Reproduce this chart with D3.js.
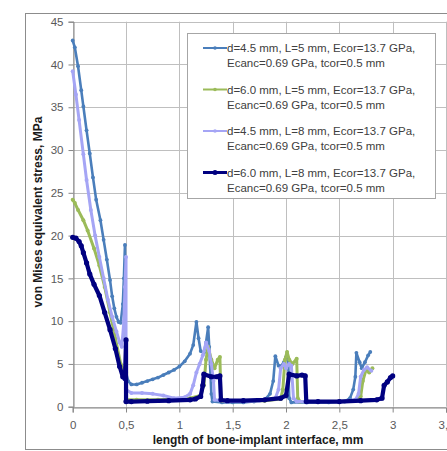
<!DOCTYPE html>
<html>
<head>
<meta charset="utf-8">
<script src="https://cdn.jsdelivr.net/npm/d3@7"></script>
<style>
  body { margin: 0; background: #fff; }
  text { font-family: "Liberation Sans", Arial, sans-serif; }
</style>
</head>
<body>
<div id="chart"></div>
<script>
// data
var xTicks = [0, 0.5, 1, 1.5, 2, 2.5, 3, 3.5];
var yTicks = [0, 5, 10, 15, 20, 25, 30, 35, 40, 45];

var s1x = [0,0.02,0.05,0.08,0.1,0.13,0.16,0.19,0.22,0.26,0.29,0.32,0.35,0.37,0.39,0.41,0.43,0.45,0.47,0.48,0.49,0.5,0.52,0.55,0.6,0.65,0.7,0.75,0.8,0.85,0.9,0.95,1.0,1.05,1.1,1.13,1.16,1.18,1.2,1.23,1.25,1.27,1.28,1.3,1.31,1.4,1.5,1.6,1.7,1.8,1.85,1.88,1.9,1.93,1.95,1.98,2.0,2.02,2.03,2.05,2.2,2.4,2.55,2.6,2.63,2.65,2.66,2.69,2.71,2.74,2.77,2.79];
var s1y = [42.8,42,39.8,37,35.1,32.3,29.6,26.8,24.2,21.8,19.5,17.2,14.8,12.9,11.5,10.5,9.9,9.8,12,15,18.9,4,3,2.6,2.6,2.8,3,3.2,3.4,3.7,4,4.3,4.7,5.3,6.2,7.2,9.9,8,6.5,6.3,7.5,9.3,7,1.5,0.6,0.5,0.5,0.5,0.6,0.8,1.5,3,5.9,4.8,4.7,5.2,5.8,5.5,1,0.5,0.5,0.5,0.6,1,2,3.5,6.3,5.2,4.5,5.2,6,6.4];

var s2x = [0,0.02,0.05,0.1,0.14,0.2,0.25,0.3,0.35,0.4,0.45,0.48,0.5,0.5,0.6,0.8,1.0,1.1,1.2,1.23,1.25,1.27,1.3,1.33,1.36,1.38,1.39,1.4,1.6,1.8,1.95,1.97,1.99,2.01,2.03,2.06,2.1,2.11,2.13,2.3,2.5,2.65,2.7,2.72,2.75,2.78,2.81];
var s2y = [24.2,23.8,23,21.8,20.6,18.5,16.5,14,11,8,5,4.2,4,0.8,0.8,0.8,0.9,1,1.3,2.5,5.5,7,5.5,4.5,5.5,5.8,1,0.7,0.7,0.7,0.9,2,5.5,6.4,5.5,5,5.6,1,0.6,0.6,0.6,0.7,1.2,3,4.3,4,4.5];

var s3x = [0,0.03,0.06,0.1,0.13,0.17,0.21,0.25,0.29,0.33,0.37,0.41,0.44,0.46,0.48,0.49,0.5,0.5,0.55,0.65,0.75,0.85,0.95,1.05,1.1,1.13,1.16,1.19,1.22,1.25,1.28,1.3,1.32,1.33,1.45,1.6,1.75,1.9,1.93,1.95,1.98,2.0,2.03,2.05,2.07,2.1,2.3,2.5,2.65,2.68,2.7,2.73,2.76,2.8];
var s3y = [39.2,36.5,33.5,29.5,26.5,23,20,17.5,15,12.5,10.5,8.8,7.5,7,10,14,17.5,2,1.6,1.6,1.5,1.3,1,1.1,1.5,2.5,4,5,6,7.5,6.5,5,3,0.8,0.6,0.6,0.7,1,2,4.5,5,4.5,5,4.8,1,0.6,0.6,0.6,0.8,1.5,3.5,4.3,4.6,4.2];

var s4x = [0,0.03,0.06,0.08,0.1,0.13,0.16,0.2,0.25,0.3,0.35,0.4,0.44,0.47,0.49,0.5,0.5,0.55,0.7,0.9,1.1,1.15,1.2,1.22,1.23,1.3,1.35,1.38,1.39,1.45,1.6,1.8,1.95,2.0,2.03,2.1,2.15,2.18,2.19,2.3,2.5,2.7,2.85,2.9,2.92,2.95,2.98,3.0];
var s4y = [19.8,19.7,19.3,18.8,18,16.8,15.5,14.3,13,11,9,6.8,4.7,3.5,3.3,7.8,0.6,0.6,0.65,0.7,0.8,0.9,1.2,2.5,3.8,3.5,3.5,3.6,0.8,0.7,0.7,0.8,1,1.3,3.8,3.6,3.7,3.6,0.6,0.6,0.6,0.7,0.8,1,2.5,2.9,3.4,3.6];

var legendLines1 = ["d=4.5 mm, L=5 mm, Ecor=13.7 GPa,", "d=6.0 mm, L=5 mm, Ecor=13.7 GPa,", "d=4.5 mm, L=8 mm, Ecor=13.7 GPa,", "d=6.0 mm, L=8 mm, Ecor=13.7 GPa,"];
var legendLine2 = "Ecanc=0.69 GPa, tcor=0.5 mm";
var colors = ["#4A7EBB", "#9BBB59", "#A5A5F5", "#000080"];

var series = [
  {xs: s1x, ys: s1y, w: 2.6, r: 1.9},
  {xs: s2x, ys: s2y, w: 3, r: 2},
  {xs: s3x, ys: s3y, w: 3, r: 2},
  {xs: s4x, ys: s4y, w: 4.2, r: 2.6}
];

var width = 447, height = 451;

var svg = d3.select("#chart")
    .append("svg")
    .attr("width", width)
    .attr("height", height);

// chart frame
svg.append("rect")
    .attr("x", 25.5).attr("y", 13.5)
    .attr("width", 440).attr("height", 436)
    .attr("fill", "#fff")
    .attr("stroke", "#8c8c8c");

var x = d3.scaleLinear().domain([0, 3.5]).range([72.7, 446]);
var y = d3.scaleLinear().domain([0, 45]).range([406.7, 21.7]);

// gridlines
svg.append("g").selectAll("line").data(yTicks).join("line")
    .attr("x1", x(0)).attr("x2", x(3.5))
    .attr("y1", function(d) { return Math.round(y(d)) + 0.5; })
    .attr("y2", function(d) { return Math.round(y(d)) + 0.5; })
    .attr("stroke", "#bfbfbf");
svg.append("g").selectAll("line").data(xTicks).join("line")
    .attr("y1", y(0)).attr("y2", y(45))
    .attr("x1", function(d) { return Math.round(x(d)) + 0.5; })
    .attr("x2", function(d) { return Math.round(x(d)) + 0.5; })
    .attr("stroke", "#bfbfbf");

// axes
var yAxis = svg.append("g")
    .attr("transform", "translate(" + (Math.round(x(0)) + 0.5) + ",0)")
    .call(d3.axisLeft(y).tickValues(yTicks).tickSize(5).tickPadding(5));
var xAxis = svg.append("g")
    .attr("transform", "translate(0," + (Math.round(y(0)) + 0.5) + ")")
    .call(d3.axisBottom(x).tickValues(xTicks).tickSize(5).tickPadding(8)
      .tickFormat(function(d) { return String(d).replace(".", ","); }));
[yAxis, xAxis].forEach(function(a) {
  a.select(".domain").attr("stroke", "#868686");
  a.selectAll(".tick line").attr("stroke", "#868686");
  a.selectAll(".tick text").attr("fill", "#595959")
    .style("font-size", "11.5px").style("font-family", "'Liberation Sans', Arial, sans-serif");
});

// axis titles
svg.append("text")
    .attr("x", 258).attr("y", 444)
    .attr("text-anchor", "middle")
    .style("font-size", "12px").style("font-weight", "bold")
    .attr("fill", "#1a1a1a")
    .text("length of bone-implant interface, mm");
svg.append("text")
    .attr("transform", "translate(42,212) rotate(-90)")
    .attr("text-anchor", "middle")
    .style("font-size", "12px").style("font-weight", "bold")
    .attr("fill", "#1a1a1a")
    .text("von Mises equivalent stress, MPa");

// series
var line = d3.line()
    .x(function(d) { return x(d[0]); })
    .y(function(d) { return y(d[1]); });

series.forEach(function(s, i) {
  var pts = s.xs.map(function(v, j) { return [v, s.ys[j]]; });
  var g = svg.append("g");
  g.append("path")
      .datum(pts)
      .attr("d", line)
      .attr("fill", "none")
      .attr("stroke", colors[i])
      .attr("stroke-width", s.w)
      .attr("stroke-linejoin", "round");
  g.selectAll("circle").data(pts).join("circle")
      .attr("cx", function(d) { return x(d[0]); })
      .attr("cy", function(d) { return y(d[1]); })
      .attr("r", s.r)
      .attr("fill", colors[i]);
});

// legend
var legend = svg.append("g");
legend.append("rect")
    .attr("x", 187.5).attr("y", 33.5)
    .attr("width", 248).attr("height", 165)
    .attr("fill", "#fff")
    .attr("stroke", "#a6a6a6");

legendLines1.forEach(function(t, i) {
  var yy = 48 + i * 41.5;
  legend.append("line")
      .attr("x1", 203).attr("x2", 227)
      .attr("y1", yy).attr("y2", yy)
      .attr("stroke", colors[i]).attr("stroke-width", i === 3 ? 3 : 2);
  legend.append("circle")
      .attr("cx", 215).attr("cy", yy)
      .attr("r", i === 3 ? 2.5 : 1.8)
      .attr("fill", colors[i]);
  legend.append("text")
      .attr("x", 227).attr("y", yy + 4)
      .style("font-size", "11.5px")
      .attr("fill", "#404040")
      .text(t);
  legend.append("text")
      .attr("x", 227).attr("y", yy + 19)
      .style("font-size", "11.5px")
      .attr("fill", "#404040")
      .text(legendLine2);
});
</script>
</body>
</html>
